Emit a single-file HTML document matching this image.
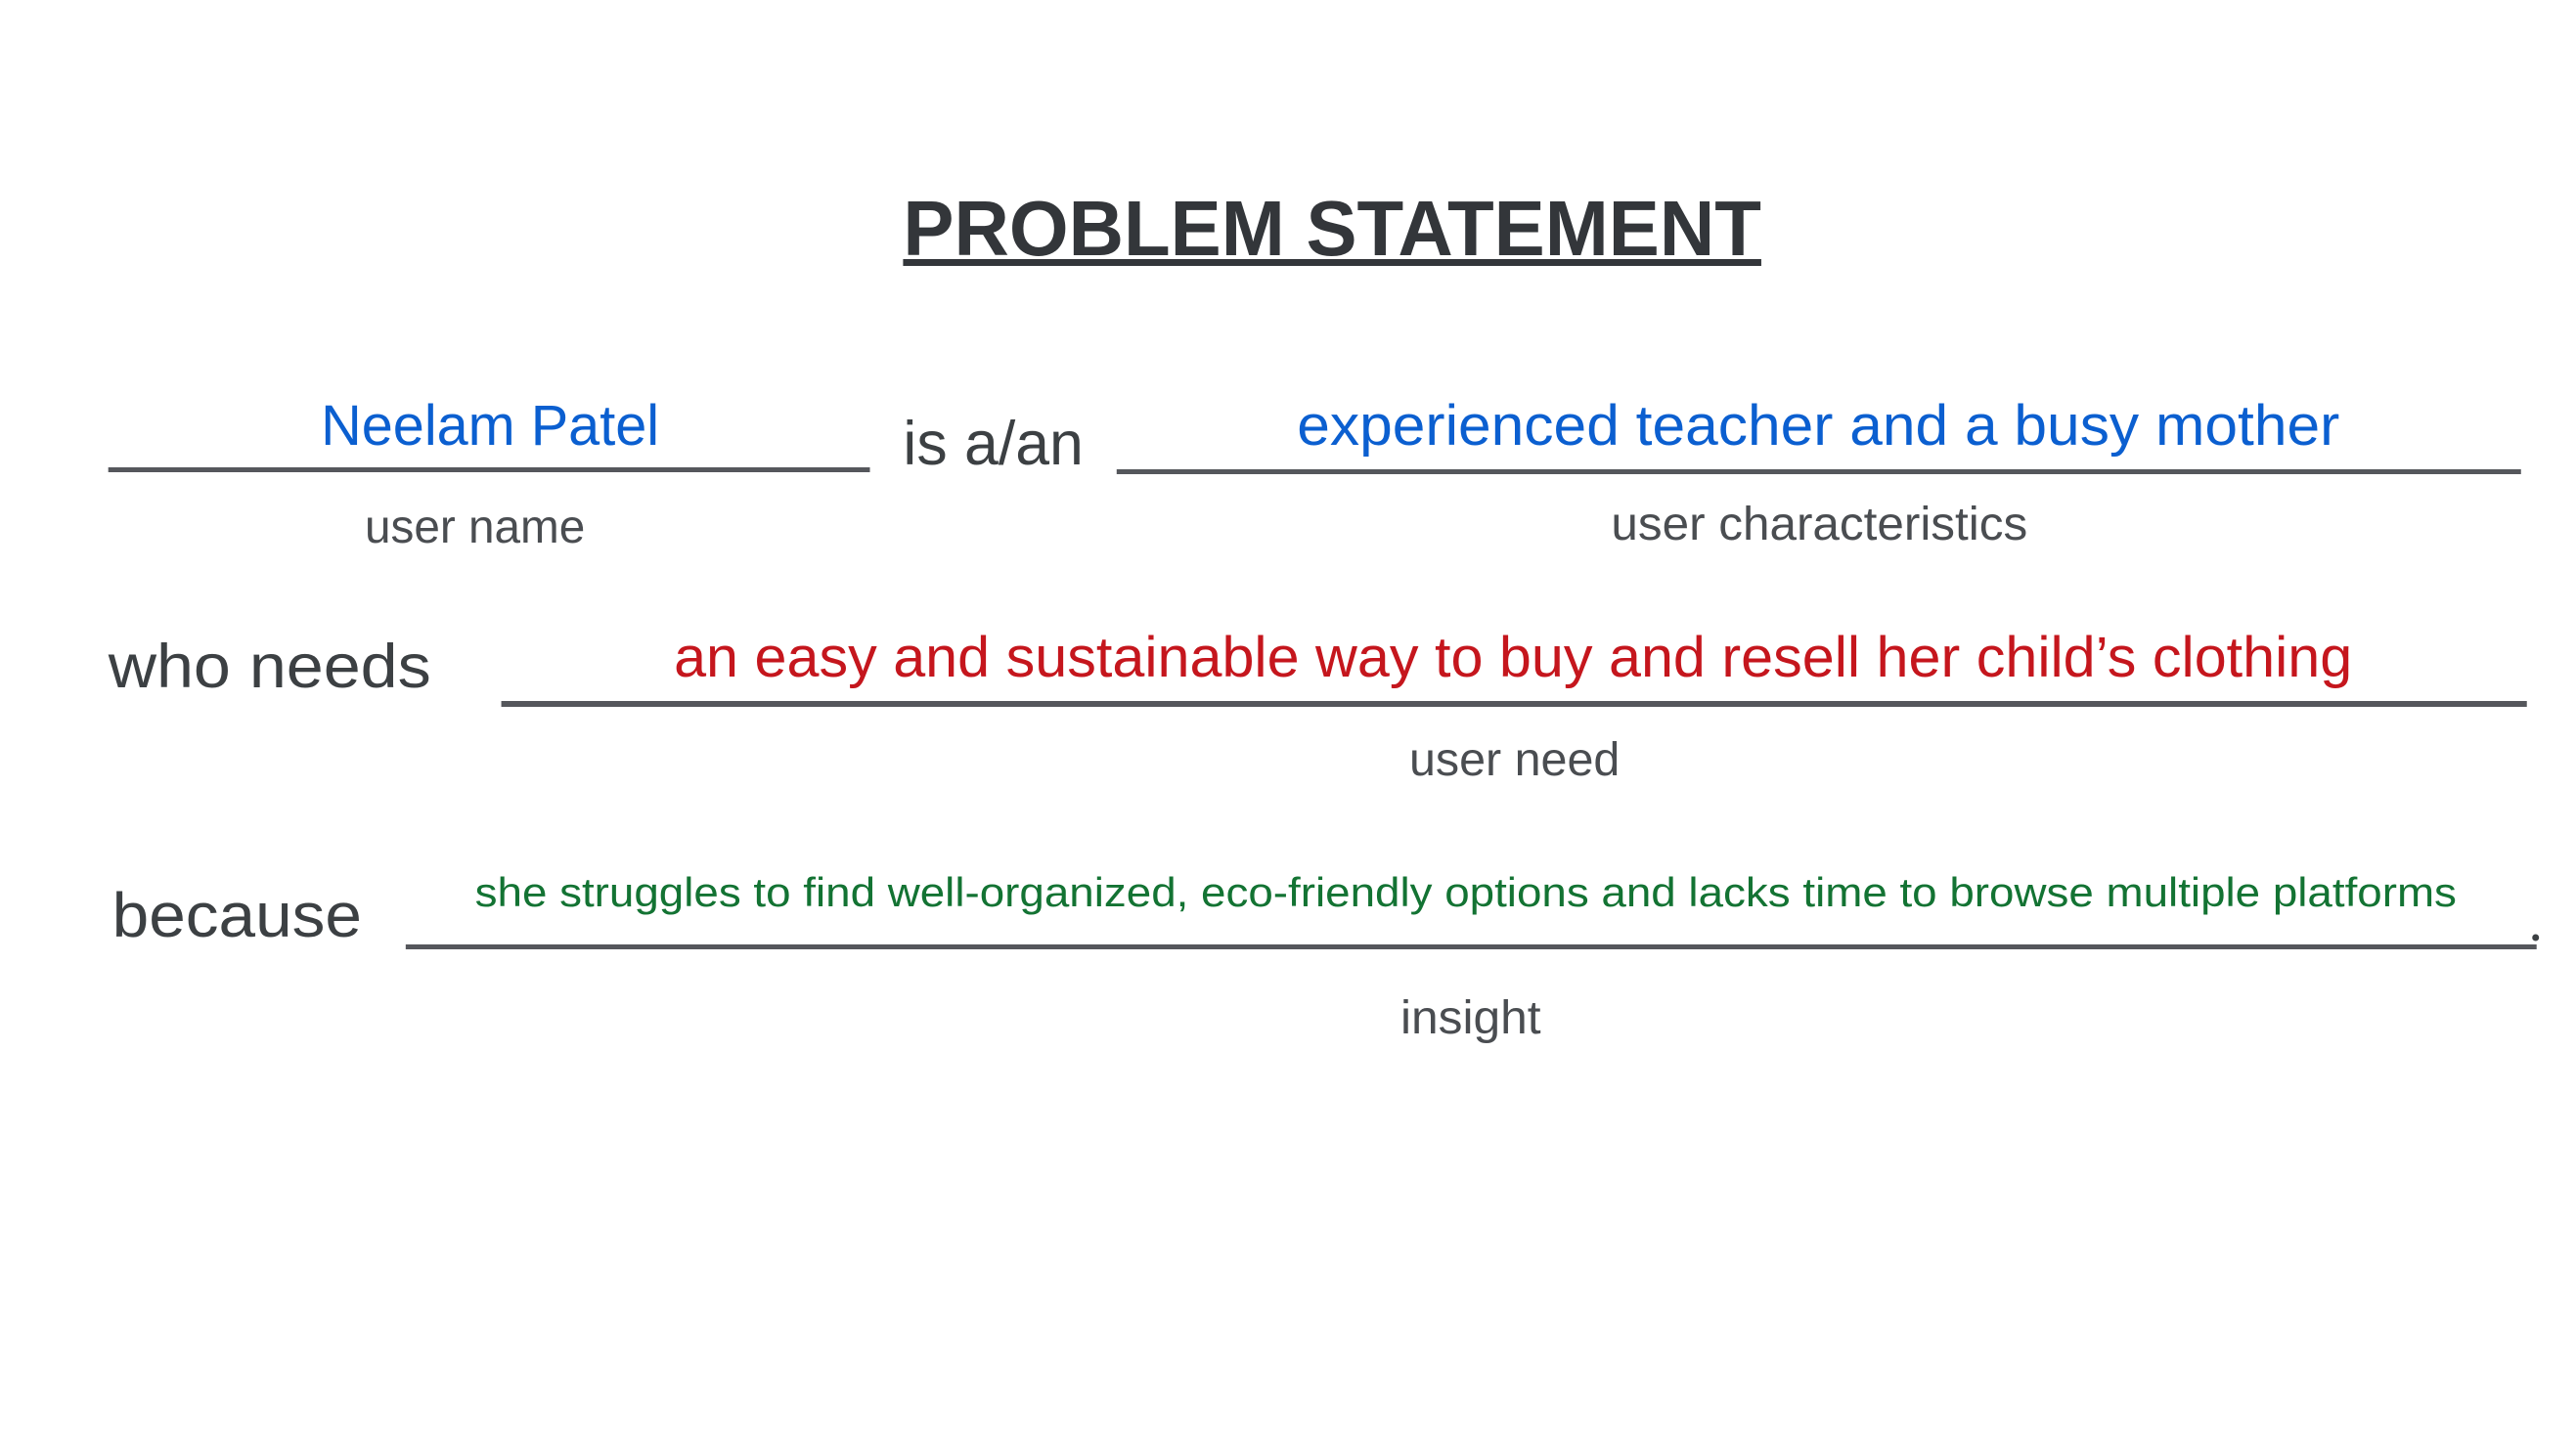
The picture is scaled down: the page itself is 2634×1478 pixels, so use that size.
<!DOCTYPE html>
<html><head><meta charset="utf-8"><style>html,body{margin:0;padding:0;background:#fff}svg{display:block}</style></head>
<body>
<svg width="2634" height="1478" viewBox="0 0 2634 1478" xmlns="http://www.w3.org/2000/svg" font-family="Liberation Sans, sans-serif">
<rect width="2634" height="1478" fill="#fff"/>
<g transform="scale(0.9972,1)">
<text x="926" y="261" font-size="80" font-weight="bold" fill="#33363a" textLength="880" lengthAdjust="spacingAndGlyphs">PROBLEM STATEMENT</text>
<rect x="926" y="265" width="880" height="7" fill="#33363a"/>

<text x="329" y="455" font-size="58" fill="#0b5fd0" textLength="347" lengthAdjust="spacingAndGlyphs">Neelam Patel</text>
<rect x="111" y="478" width="781" height="5" fill="#55575c"/>
<text x="926" y="475" font-size="63" fill="#3c4043" textLength="185" lengthAdjust="spacingAndGlyphs">is a/an</text>
<text x="1330" y="455" font-size="58" fill="#0b5fd0" textLength="1069" lengthAdjust="spacingAndGlyphs">experienced teacher and a busy mother</text>
<rect x="1145" y="480" width="1440" height="5" fill="#55575c"/>
<text x="374" y="555" font-size="48" fill="#4a4d51" textLength="226" lengthAdjust="spacingAndGlyphs">user name</text>
<text x="1652" y="552" font-size="48" fill="#4a4d51" textLength="427" lengthAdjust="spacingAndGlyphs">user characteristics</text>

<text x="111" y="703" font-size="63" fill="#3c4043" textLength="331" lengthAdjust="spacingAndGlyphs">who needs</text>
<text x="691" y="692" font-size="58" fill="#c5161d" textLength="1721" lengthAdjust="spacingAndGlyphs">an easy and sustainable way to buy and resell her child’s clothing</text>
<rect x="514" y="717" width="2077" height="6" fill="#55575c"/>
<text x="1445" y="793" font-size="48" fill="#4a4d51" textLength="216" lengthAdjust="spacingAndGlyphs">user need</text>

<text x="115" y="958" font-size="64" fill="#3c4043" textLength="256" lengthAdjust="spacingAndGlyphs">because</text>
<text x="487" y="927" font-size="42" fill="#137333" textLength="2032" lengthAdjust="spacingAndGlyphs">she struggles to find well-organized, eco-friendly options and lacks time to browse multiple platforms</text>
<rect x="416" y="966" width="2185" height="5" fill="#55575c"/>
<circle cx="2600" cy="959" r="3.5" fill="#3c4043"/>
<text x="1436" y="1057" font-size="48" fill="#4a4d51" textLength="144" lengthAdjust="spacingAndGlyphs">insight</text>
</g>
</svg>
</body></html>
